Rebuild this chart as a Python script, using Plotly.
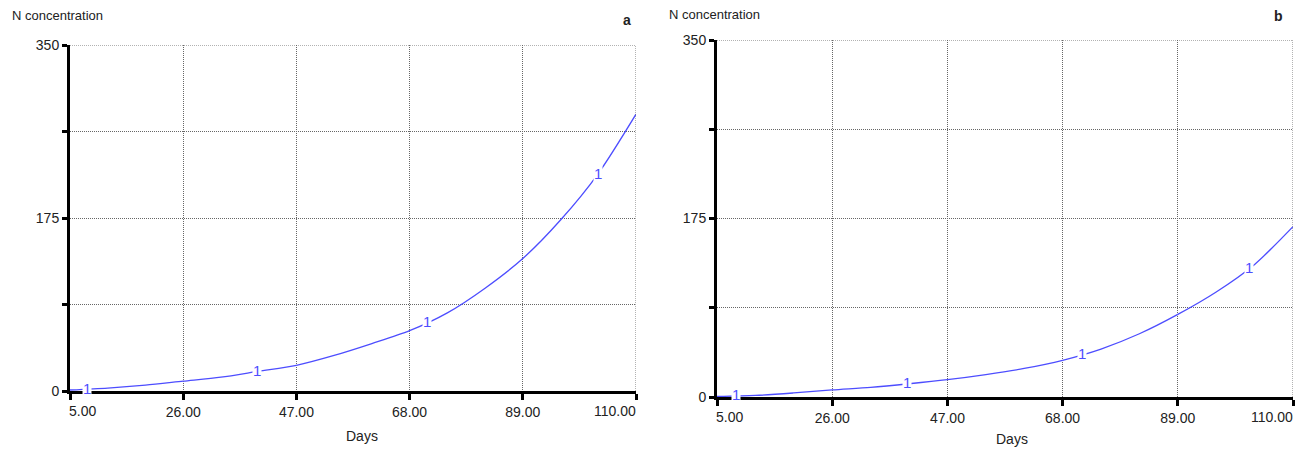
import numpy as np
import plotly.graph_objects as go

# ---- data ----
days = [5, 12, 19, 26, 33, 40, 47, 54, 61, 68, 75, 82, 89, 96, 103, 110]
n_conc_a = [1, 3, 6, 10, 14, 20, 26, 36, 48, 61, 79, 104, 134, 173, 220, 280]
n_conc_b = [0.5, 1.5, 4, 7, 9.5, 13, 17, 22, 28, 36, 47, 62, 81, 103, 130, 167]
label_days_a = [8.2, 39.6, 71.2, 102.9]
label_days_b = [8.5, 39.6, 71.5, 102.0]
x_ticks = [5, 26, 47, 68, 89, 110]
x_tick_text = ["5.00", "26.00", "47.00", "68.00", "89.00", "110.00"]
y_ticks = [0, 87.5, 175, 262.5, 350]
y_tick_text = ["0", "", "175", "", "350"]

# page body has an 8px margin; the figure is sized to fit the window
OFF = 8
W, H = 1310 - OFF, 449 - OFF
LINE = "#4d4dff"
GRID = "#666"
TXT = "#222"
FONT = "Liberation Sans, Arial, sans-serif"


def px(x):
    return (x - OFF) / W


def py(y):
    return 1 - (y - OFF) / H


fig = go.Figure()

panels = [
    dict(x="x", y="y", vals=n_conc_a, labs=label_days_a,
         xd=[px(70), px(636)], yd=[py(391), py(45)]),
    dict(x="x2", y="y2", vals=n_conc_b, labs=label_days_b,
         xd=[px(717), px(1293)], yd=[py(397), py(40)]),
]

# inner x tick labels are centred, the end ones are aligned inwards
inner_text = [t if 0 < k < len(x_ticks) - 1 else "" for k, t in enumerate(x_tick_text)]

for i, p in enumerate(panels):
    fig.add_trace(go.Scatter(x=days, y=p["vals"], mode="lines",
                             line=dict(color=LINE, width=1.3, shape="spline",
                                       smoothing=0.8),
                             xaxis=p["x"], yaxis=p["y"], showlegend=False,
                             hoverinfo="skip"))
    for d in p["labs"]:
        v = float(np.interp(d, days, p["vals"]))
        fig.add_annotation(x=d, y=v, xref=p["x"], yref=p["y"], text="1",
                           showarrow=False, bgcolor="white",
                           font=dict(family=FONT, size=15, color=LINE),
                           borderpad=0, yshift=1)
    for k, anc in ((0, "left"), (len(x_ticks) - 1, "right")):
        fig.add_annotation(x=x_ticks[k], y=0, xref=p["x"], yref=p["y"],
                           text=x_tick_text[k], showarrow=False,
                           xanchor=anc, yanchor="middle", yshift=-20,
                           xshift=-3 if anc == "left" else 2,
                           font=dict(family=FONT, size=14, color=TXT))
    sfx = "" if i == 0 else "2"
    axis_common = dict(showline=True, linecolor="black", linewidth=3,
                       ticks="outside", tickcolor="black", tickwidth=3,
                       ticklen=6, showgrid=True, gridcolor=GRID,
                       gridwidth=1, griddash="1px,1px", zeroline=False,
                       tickfont=dict(family=FONT, size=14, color=TXT),
                       mirror=False, automargin=False, layer="above traces")
    fig.update_layout(**{
        "xaxis" + sfx: dict(axis_common, domain=p["xd"], range=[5, 110],
                            tickmode="array", tickvals=x_ticks,
                            ticktext=inner_text, anchor="y" + sfx),
        "yaxis" + sfx: dict(axis_common, domain=p["yd"], range=[0, 350],
                            tickmode="array", tickvals=y_ticks,
                            ticktext=y_tick_text, anchor="x" + sfx,
                            ticklen=5),
    })
    # dotted top and right borders
    fig.add_shape(type="line", xref=p["x"], yref=p["y"], x0=5, x1=110,
                  y0=350, y1=350, line=dict(color=GRID, width=1, dash="1px,1px"))
    fig.add_shape(type="line", xref=p["x"], yref=p["y"], x0=110, x1=110,
                  y0=0, y1=350, line=dict(color=GRID, width=1, dash="1px,1px"))

# titles and labels
texts = [
    (10, 16, "N concentration", "left", False, 13),
    (667, 14, "N concentration", "left", False, 13),
    (627, 20, "a", "center", True, 14),
    (1278, 16, "b", "center", True, 14),
    (362, 436, "Days", "center", False, 14),
    (1012, 439, "Days", "center", False, 14),
]
for x, y, t, anc, bold, fs in texts:
    fig.add_annotation(x=px(x), y=py(y), xref="paper", yref="paper",
                       text=f"<b>{t}</b>" if bold else t, showarrow=False,
                       xanchor=anc, yanchor="middle",
                       font=dict(family=FONT, size=fs, color=TXT))

fig.update_layout(width=W, height=H, margin=dict(l=0, r=0, t=0, b=0),
                  plot_bgcolor="white", paper_bgcolor="white",
                  template="none")
fig.write_html("out.html")
